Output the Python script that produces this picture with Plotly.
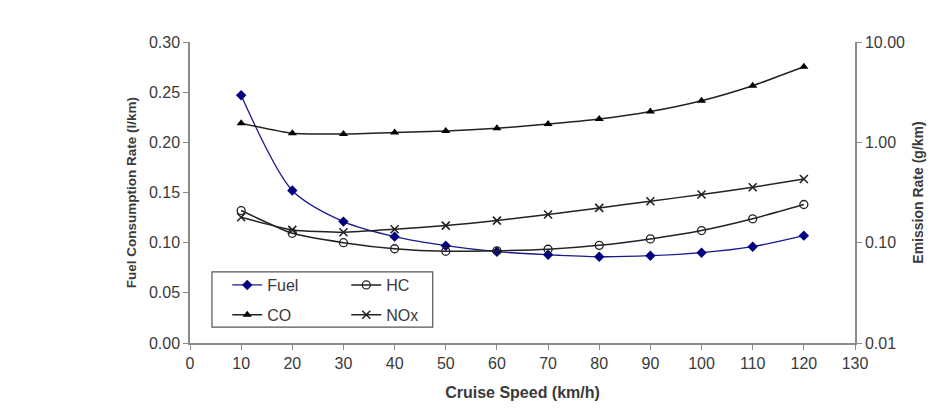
import plotly.graph_objects as go

speed = [10, 20, 30, 40, 50, 60, 70, 80, 90, 100, 110, 120]
fuel = [0.247, 0.152, 0.121, 0.106, 0.097, 0.091, 0.088, 0.086, 0.087, 0.090, 0.096, 0.107]
hc = [0.209, 0.124, 0.100, 0.087, 0.082, 0.083, 0.086, 0.094, 0.109, 0.132, 0.173, 0.240]
co = [1.55, 1.23, 1.21, 1.25, 1.30, 1.38, 1.52, 1.71, 2.03, 2.60, 3.67, 5.66]
nox = [0.179, 0.134, 0.127, 0.136, 0.148, 0.166, 0.191, 0.222, 0.259, 0.302, 0.357, 0.431]

x_ticks = list(range(0, 131, 10))
left_ticks = [0.00, 0.05, 0.10, 0.15, 0.20, 0.25, 0.30]
right_ticks = [0.01, 0.1, 1, 10]
right_labels = ["0.01", "0.10", "1.00", "10.00"]

FONT = "Liberation Sans, Arial, sans-serif"
AX = "#8a8a8a"
TXT = "#3a3a3a"
FS = 16

fig = go.Figure()
fig.add_trace(go.Scatter(x=speed, y=fuel, name="Fuel", mode="lines+markers",
                         line=dict(color="#1a1a8c", width=1.3, shape="spline", smoothing=0.8),
                         marker=dict(symbol="diamond", size=8, color="#000080"),
                         legend="legend", legendgroup="a"))
fig.add_trace(go.Scatter(x=speed, y=co, name="CO", mode="lines+markers", yaxis="y2",
                         line=dict(color="#222222", width=1.5, shape="spline", smoothing=0.5),
                         marker=dict(symbol="triangle-up", size=8, color="#000000"),
                         legend="legend", legendgroup="b"))
fig.add_trace(go.Scatter(x=speed, y=hc, name="HC", mode="lines+markers", yaxis="y2",
                         line=dict(color="#222222", width=1.5, shape="spline", smoothing=0.5),
                         marker=dict(symbol="circle-open", size=8, color="#222222", line=dict(width=1.3)),
                         legend="legend2", legendgroup="c"))
fig.add_trace(go.Scatter(x=speed, y=nox, name="NOx", mode="lines+markers", yaxis="y2",
                         line=dict(color="#222222", width=1.5, shape="spline", smoothing=0.5),
                         marker=dict(symbol="x-thin-open", size=8, color="#222222", line=dict(width=1.6)),
                         legend="legend2", legendgroup="d"))

legend_common = dict(bgcolor="rgba(0,0,0,0)", borderwidth=0, font=dict(family=FONT, size=FS, color=TXT),
                     tracegroupgap=6, xanchor="left", yanchor="top")

fig.update_layout(
    width=938, height=416,
    margin=dict(l=190, r=83, t=42, b=73),
    paper_bgcolor="white", plot_bgcolor="white",
    font=dict(family=FONT, size=FS, color=TXT),
    xaxis=dict(range=[0, 130], tickvals=x_ticks, showgrid=False, zeroline=False,
               showline=True, linecolor=AX, linewidth=1.5, ticks="outside", tickcolor=AX,
               ticklen=5, tickfont=dict(size=FS, color=TXT),
               title=dict(text="<b>Cruise Speed (km/h)</b>", font=dict(size=FS, color=TXT), standoff=16)),
    yaxis=dict(range=[0, 0.3], tickvals=left_ticks, tickformat=".2f", showgrid=False, zeroline=False,
               showline=True, linecolor=AX, linewidth=1.5, ticks="outside", tickcolor=AX, ticklen=5,
               tickfont=dict(size=FS, color=TXT),
               title=dict(text="<b>Fuel Consumption Rate (l/km)</b>", font=dict(size=13.5, color=TXT), standoff=9)),
    yaxis2=dict(type="log", range=[-2, 1], overlaying="y", side="right", tickvals=right_ticks,
                ticktext=right_labels, showgrid=False, zeroline=False, showline=True, linecolor=AX,
                linewidth=1.5, ticks="outside", tickcolor=AX, ticklen=5, tickfont=dict(size=FS, color=TXT),
                title=dict(text="<b>Emission Rate (g/km)</b>", font=dict(size=14, color=TXT), standoff=9)),
    legend=dict(x=0.056, y=0.249, **legend_common),
    legend2=dict(x=0.235, y=0.249, **legend_common),
    showlegend=True,
    shapes=[dict(type="rect", xref="paper", yref="paper", x0=0.033, x1=0.365, y0=0.053, y1=0.236,
                 line=dict(color="#555555", width=1.2), fillcolor="rgba(0,0,0,0)")],
)

fig.write_html("out.html")
